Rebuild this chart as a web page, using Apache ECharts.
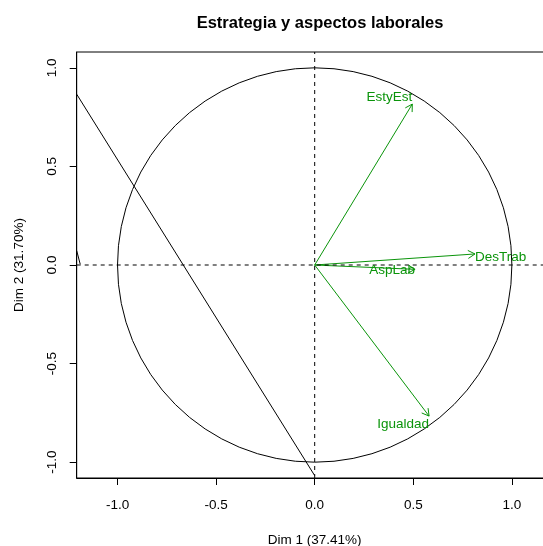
<!DOCTYPE html>
<html><head><meta charset="utf-8">
<script src="https://cdn.jsdelivr.net/npm/echarts@6/dist/echarts.min.js"></script>
<style>html,body{margin:0;padding:0;background:#fff}#c{width:543px;height:546px}</style>
</head><body><div id="c"></div>
<script>
// ---- data ----
const chartTitle = 'Estrategia y aspectos laborales';
const xAxisName = 'Dim 1 (37.41%)';
const yAxisName = 'Dim 2 (31.70%)';
const variables = ['EstyEst', 'DesTrab', 'AspLab', 'Igualdad'];
const dim1 = [0.495, 0.813, 0.509, 0.580];
const dim2 = [0.816, 0.056, -0.022, -0.766];
const tickValues = [-1, -0.5, 0, 0.5, 1];
const xRange = [-1.207, 1.207];
const yRange = [-1.08, 1.08];
const strayLineAX = [-1.207, 0];
const strayLineAY = [0.866, -1.068];
const strayLineBX = [-1.207, -1.189];
const strayLineBY = [0.0725, 0.0035];

// ---- styles ----
const green = '#0a940a';
const FONT = 'Liberation Sans, Arial, sans-serif';
const labelPlacement = [
  { position: 'left', offset: [0, -7] },
  { position: 'right', offset: [0, 3] },
  { position: 'left', offset: [0, 1] },
  { position: 'left', offset: [0, 8] }
];

const pairs = (xs, ys) => xs.map((x, i) => [x, ys[i]]);

const chart = echarts.init(document.getElementById('c'), null, { renderer: 'canvas' });

const axisCommon = {
  type: 'value',
  splitLine: { show: false },
  axisLine: { show: true, onZero: false, lineStyle: { color: '#000', width: 1 } },
  axisTick: { show: true, customValues: tickValues, length: 7, lineStyle: { color: '#000', width: 1 } },
  nameLocation: 'middle',
  nameTextStyle: { fontSize: 13.5, color: '#000', fontFamily: FONT }
};

const option = {
  animation: false,
  backgroundColor: '#fff',
  title: {
    text: chartTitle,
    left: 315, textAlign: 'center', top: 10,
    textStyle: { fontSize: 16.5, fontWeight: 'bold', color: '#000', fontFamily: FONT }
  },
  grid: { left: 76.7, right: -9.7, top: 52, bottom: 68, show: true, borderColor: '#000', borderWidth: 1, containLabel: false, outerBoundsMode: 'none' },
  xAxis: Object.assign({}, axisCommon, {
    min: xRange[0], max: xRange[1],
    name: xAxisName, nameGap: 55,
    axisLabel: { customValues: tickValues, formatter: v => v.toFixed(1), fontSize: 13.5, color: '#000', margin: 20, fontFamily: FONT }
  }),
  yAxis: Object.assign({}, axisCommon, {
    min: yRange[0], max: yRange[1],
    name: yAxisName, nameGap: 50, nameRotate: 90,
    axisLabel: { customValues: tickValues, formatter: v => v.toFixed(1), fontSize: 13.5, color: '#000', margin: 17, rotate: 90, fontFamily: FONT }
  }),
  series: [
    {
      type: 'line', data: [[0, yRange[0]], [0, yRange[1]]], symbol: 'none', silent: true,
      lineStyle: { color: '#000', width: 1, type: [4, 4] }
    },
    {
      type: 'line', data: [[xRange[0], 0], [xRange[1], 0]], symbol: 'none', silent: true,
      lineStyle: { color: '#000', width: 1, type: [4, 4] }
    },
    {
      type: 'custom', silent: true, data: [[0, 0]],
      renderItem: (params, api) => {
        const c = api.coord([api.value(0), api.value(1)]);
        const r = api.size([1, 1])[0];
        return { type: 'circle', shape: { cx: c[0], cy: c[1], r: r }, style: { stroke: '#000', fill: null, lineWidth: 1 } };
      }
    },
    {
      type: 'line', data: pairs(strayLineAX, strayLineAY), symbol: 'none', silent: true, clip: true,
      lineStyle: { color: '#000', width: 1 }
    },
    {
      type: 'line', data: pairs(strayLineBX, strayLineBY), symbol: 'none', silent: true, clip: true,
      lineStyle: { color: '#000', width: 1 }
    },
    {
      type: 'custom', silent: true, data: pairs(dim1, dim2),
      renderItem: (params, api) => {
        const o = api.coord([0, 0]);
        const t = api.coord([api.value(0), api.value(1)]);
        const ang = Math.atan2(t[1] - o[1], t[0] - o[0]);
        const L = 8, a = Math.PI / 6;
        const p1 = [t[0] - L * Math.cos(ang - a), t[1] - L * Math.sin(ang - a)];
        const p2 = [t[0] - L * Math.cos(ang + a), t[1] - L * Math.sin(ang + a)];
        return {
          type: 'group', children: [
            { type: 'line', shape: { x1: o[0], y1: o[1], x2: t[0], y2: t[1] }, style: { stroke: green, lineWidth: 1 } },
            { type: 'polyline', shape: { points: [p1, t, p2] }, style: { stroke: green, fill: null, lineWidth: 1 } }
          ]
        };
      }
    },
    {
      type: 'scatter', silent: true, symbolSize: 0, z: 10,
      itemStyle: { opacity: 1 },
      data: variables.map((n, i) => ({
        value: [dim1[i], dim2[i]], name: n,
        label: Object.assign({ show: true, formatter: n, distance: 0, color: green, opacity: 1, textBorderWidth: 0, fontSize: 13.5, fontFamily: FONT }, labelPlacement[i])
      }))
    }
  ]
};
chart.setOption(option);
</script>
</body></html>
